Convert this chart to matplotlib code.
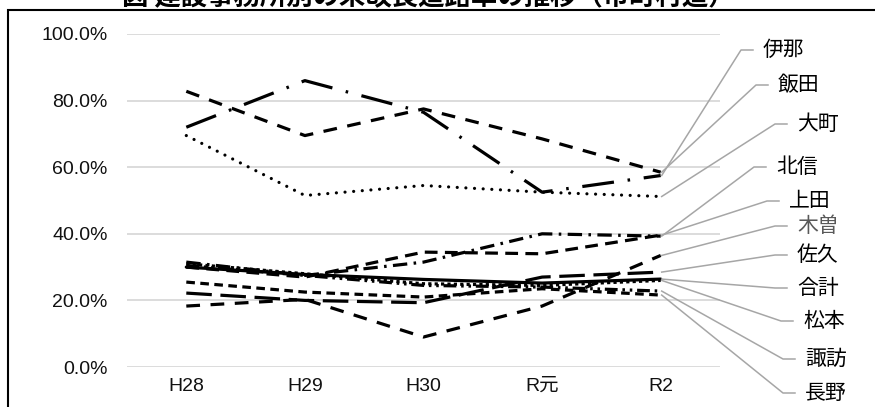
import matplotlib
matplotlib.use("Agg")
import matplotlib.pyplot as plt
from matplotlib.lines import Line2D
from matplotlib.patches import Rectangle
from matplotlib.ticker import PercentFormatter

# 年度
years = ["H28", "H29", "H30", "R元", "R2"]

# 各事務所の推移 (%)
ina = [72.0, 86.0, 76.5, 52.5, 57.5]
iida = [82.8, 69.5, 77.5, 68.5, 58.5]
omachi = [69.5, 51.5, 54.5, 52.5, 51.2]
hokushin = [31.5, 27.5, 31.5, 40.0, 39.3]
ueda = [30.0, 27.0, 34.5, 34.0, 39.6]
kiso = [18.3, 20.3, 9.0, 18.3, 33.5]
saku = [22.2, 20.0, 19.3, 27.0, 28.5]
total = [30.0, 27.8, 26.3, 25.2, 26.4]
matsumoto = [31.0, 28.0, 25.0, 24.5, 26.0]
suwa = [30.5, 27.5, 24.5, 24.0, 22.8]
nagano = [25.5, 22.5, 21.0, 23.5, 21.6]

names = ["伊那", "飯田", "大町", "北信", "上田", "木曽", "佐久", "合計", "松本", "諏訪", "長野"]
series = [ina, iida, omachi, hokushin, ueda, kiso, saku, total, matsumoto, suwa, nagano]

# 線種 (線幅単位)
styles = [
    (0, (10, 4.3, 0.8, 4.3)),
    (0, (4.3, 3.3)),
    (0, (0.01, 2.7)),
    (0, (4.5, 2, 0.8, 2)),
    (0, (4, 2.3)),
    (0, (4.3, 3.3)),
    (0, (8, 2.7)),
    "solid",
    (0, (1, 1)),
    (0, (4, 1.5, 0.8, 1.5, 0.8, 1.5)),
    (0, (2.7, 1.7)),
]

# ラベル位置 (左端x, 中心y) 上からのピクセル
label_pos = [
    (763, 50), (778, 85), (797, 124), (776, 167), (789, 201), (797, 226),
    (797, 255), (797, 288), (803, 321), (805, 359), (805, 393),
]
label_colors = ["black"] * 11
label_colors[5] = "#595959"

W, H = 875, 407
fig = plt.figure(figsize=(W / 100, H / 100), dpi=100)
ax = fig.add_axes([127 / W, (H - 367) / H, (720 - 127) / W, (367 - 34) / H])

x = list(range(len(years)))
for vals, ls in zip(series, styles):
    cap = "round" if ls == (0, (0.01, 2.7)) else "butt"
    ax.plot(x, vals, color="black", lw=2.3, linestyle=ls,
            dash_capstyle=cap, solid_capstyle="round", zorder=3)

ax.set_xlim(-0.5, len(years) - 0.5)
ax.set_ylim(0, 100)
ax.set_yticks([0, 20, 40, 60, 80, 100])
ax.yaxis.set_major_formatter(PercentFormatter(decimals=1))
ax.set_xticks(x)
ax.set_xticklabels(years)
ax.grid(axis="y", color="#d9d9d9", lw=1.3)
ax.set_axisbelow(True)
for s in ax.spines.values():
    s.set_visible(False)
ax.tick_params(length=0, labelsize=14, labelcolor="#111111")
ax.tick_params(axis="y", pad=14)
ax.tick_params(axis="x", pad=8)
for lab in ax.get_xticklabels() + ax.get_yticklabels():
    lab.set_family(["Liberation Sans", "Noto Sans CJK JP"])

# 引出線とラベル
fig.canvas.draw()
to_fig = fig.transFigure.inverted()
for name, vals, (tx, ty), col in zip(names, series, label_pos, label_colors):
    px, py = ax.transData.transform((x[-1], vals[-1]))
    yb = H - ty
    pts = to_fig.transform([(px + 1, py), (tx - 22, yb), (tx - 10, yb)])
    fig.add_artist(Line2D(pts[:, 0], pts[:, 1], color="#a6a6a6", lw=1.1))
    fig.text(tx / W, yb / H, name, fontsize=15, family="Noto Sans CJK JP",
             color=col, va="center", ha="left")

# タイトル (上端は枠外)
fig.text(0.49, (H - 5) / H, "図 建設事務所別の未改良道路率の推移（市町村道）",
         fontsize=19, fontweight="bold", family="Noto Sans CJK JP",
         ha="center", va="baseline")

# 外枠
fig.add_artist(Rectangle((8 / W, -0.1), 1.2, (H - 10) / H + 0.1,
                         transform=fig.transFigure, fill=False,
                         edgecolor="black", lw=1.5))

fig.savefig("out.png", dpi=100)
